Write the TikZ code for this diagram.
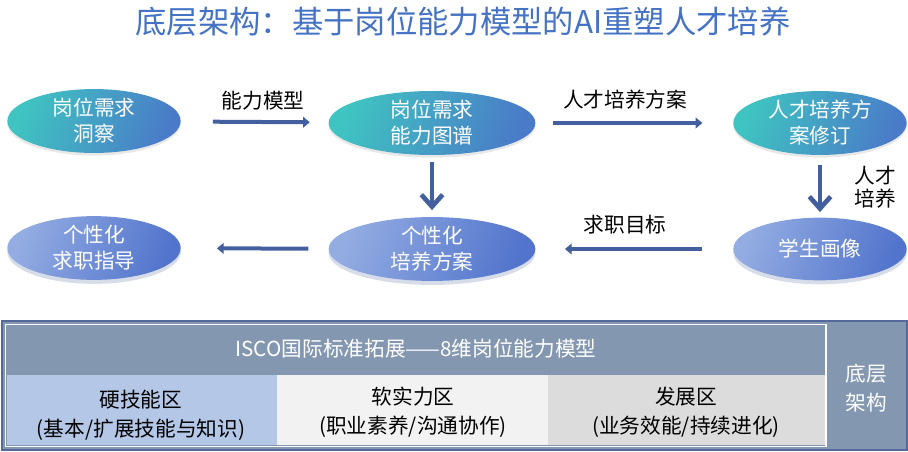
\documentclass[tikz,border=0pt]{standalone}
\usepackage{fontspec}
\setmainfont{Noto Sans CJK SC}
\usetikzlibrary{arrows.meta,shapes.geometric,shadows}
\definecolor{titleblue}{HTML}{4472C4}
\definecolor{arrowblue}{HTML}{435F9E}
\definecolor{tealc}{HTML}{3FC4C1}
\definecolor{bluec}{HTML}{4A7BC8}
\definecolor{lightc}{HTML}{93ACE2}
\definecolor{darkc}{HTML}{5274CC}
\definecolor{slate}{HTML}{8497B0}
\definecolor{framec}{HTML}{54689A}
\definecolor{hardc}{HTML}{B4C7E7}
\definecolor{softc}{HTML}{F2F2F2}
\definecolor{devc}{HTML}{DCDCDC}

\begin{document}
\begin{tikzpicture}[x=0.75pt,y=-0.75pt,
        every node/.style={font=\fontsize{15.5}{19.5}\selectfont,align=center},
        topell/.style={ellipse,inner sep=0pt,minimum height=47pt,text=white,
          top color=tealc,bottom color=bluec,shading angle=70,
          drop shadow={opacity=0.18,shadow xshift=0pt,shadow yshift=-2pt}},
        botell/.style={ellipse,inner sep=0pt,minimum height=47pt,text=white,
          top color=lightc,bottom color=darkc,shading angle=70,
          drop shadow={opacity=0.2,fill=bluec!70!black,shadow xshift=0pt,shadow yshift=-3pt}},
        harrow/.style={arrowblue,line width=3pt,-{Triangle[length=5pt,width=8pt]}},
        varrow/.style={arrowblue,line width=3.5pt,-{Straight Barb[length=9pt,width=16pt]}},
        cell/.style={font=\fontsize{15.5}{22}\selectfont}]
        \useasboundingbox (0,0) rectangle (908,451);
        \node[text=titleblue,font=\fontsize{23.5}{28}\selectfont] (title) at (463,22)
        {底层架构：基于岗位能力模型的AI重塑人才培养};

        \node[topell,minimum width=130pt] (need) at (94,121) {岗位需求\\洞察};
        \node[topell,minimum width=155pt] (map) at (432,123) {岗位需求\\能力图谱};
        \node[topell,minimum width=130pt] (revise) at (820,123) {人才培养方\\案修订};
        \node[botell,minimum width=130pt] (guide) at (94,248) {个性化\\求职指导};
        \node[botell,minimum width=155pt] (plan) at (432,249) {个性化\\培养方案};
        \node[botell,minimum width=130pt] (portrait) at (820,249) {学生画像};

        \draw[harrow,shorten <=24pt,shorten >=14pt] (need) -- (map);
        \draw[harrow,shorten <=13pt,shorten >=23pt] (map) -- (revise);
        \draw[varrow,shorten <=5pt,shorten >=5pt] (map) -- (plan);
        \draw[varrow,shorten <=7pt,shorten >=4pt] (revise) -- (portrait);
        \draw[harrow,shorten <=23pt,shorten >=22pt] (portrait) -- (plan);
        \draw[harrow,shorten <=15pt,shorten >=27pt] (plan) -- (guide);

        \node (lblmodel) at (263,101) {能力模型};
        \node (lblplan) at (625,100) {人才培养方案};
        \node (lblgoal) at (625,225) {求职目标};
        \node[font=\fontsize{15.5}{17.5}\selectfont] (lbltrain) at (875,187) {人才\\培养};

        \fill[slate] (2,321) rectangle (907,450);
        \fill[hardc] (7,375) rectangle (277,445);
        \fill[softc] (277,375) rectangle (548,445);
        \fill[devc] (548,375) rectangle (825,445);
        \draw[white,line width=1.2pt] (5.5,324.5) rectangle (826,446.5);
        \draw[framec,line width=1.2pt] (2,321) rectangle (907,450);
        \node[cell,text=white] (isco) at (416,349) {ISCO国际标准拓展——8维岗位能力模型};
        \node[cell] (hard) at (141,415) {硬技能区\\(基本/扩展技能与知识)};
        \node[cell] (soft) at (413,412) {软实力区\\(职业素养/沟通协作)};
        \node[cell] (dev) at (686,412) {发展区\\(业务效能/持续进化)};
        \node[cell,text=white] (base) at (866,388) {底层\\架构};
      \end{tikzpicture}
\end{document}
